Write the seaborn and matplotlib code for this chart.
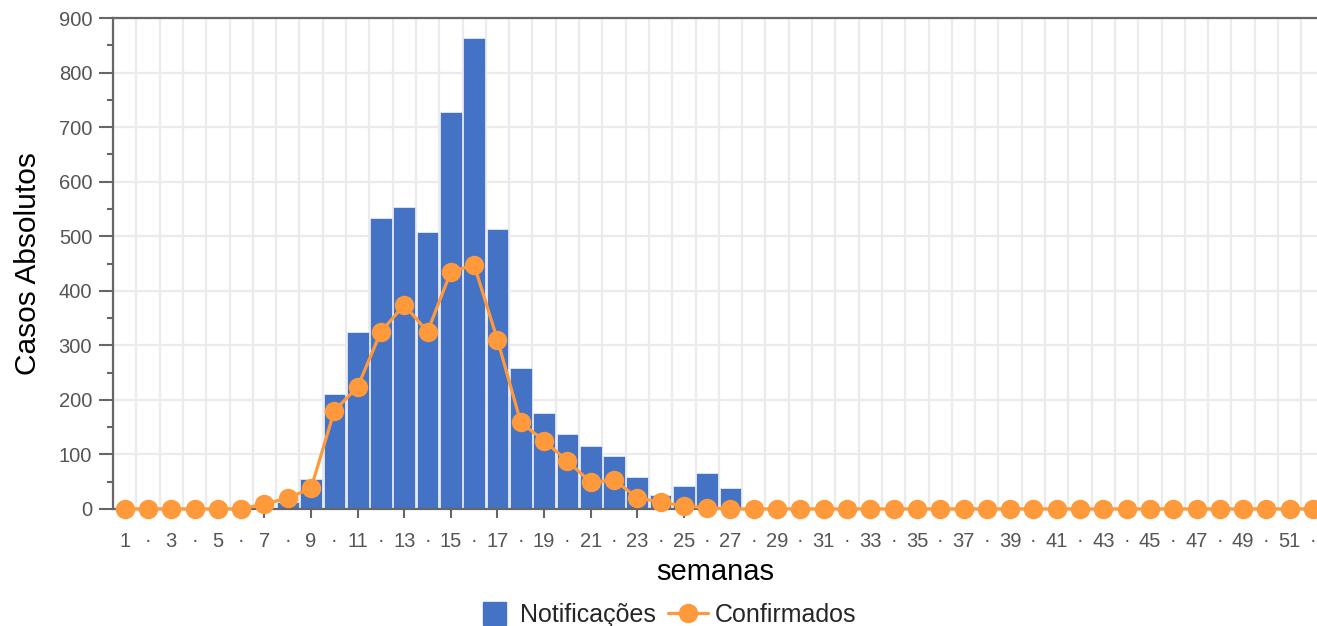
import numpy as np
import pandas as pd
import seaborn as sns
import matplotlib
matplotlib.use("Agg")
from matplotlib import pyplot as plt
from matplotlib.lines import Line2D
from matplotlib.patches import Patch, Rectangle
from matplotlib.legend_handler import HandlerPatch

sns.set_style("white")
plt.rcParams['font.family'] = ['Liberation Sans', 'DejaVu Sans']

# dados por semana epidemiologica
semanas = list(range(1, 53))
notificacoes = [0, 0, 0, 0, 0, 0, 0, 12, 55, 210, 324, 533, 553, 507, 728, 863,
                513, 258, 176, 137, 115, 98, 59, 26, 42, 66, 39] + [0] * 25
confirmados = [0, 0, 0, 0, 0, 0, 9, 20, 38, 180, 224, 325, 374, 325, 435, 447,
               310, 159, 125, 88, 49, 53, 21, 12, 6, 2, 0] + [0] * 25

df = pd.DataFrame({"semana": semanas, "Notificações": notificacoes,
                   "Confirmados": confirmados})

azul = "#4472C4"
laranja = "#FF9A3C"
cinza = "#666666"

fig = plt.figure(figsize=(13.17, 6.26), dpi=100)
ax = fig.add_axes([113 / 1317, 1 - 509 / 626, 1 - 113 / 1317, (509 - 18) / 626])

# grade
for xg in np.arange(0.5, 53, 1):
    ax.axvline(xg, color="#ebebeb", lw=1.6, zorder=0)
for yg in range(100, 901, 100):
    ax.axhline(yg, color="#ebebeb", lw=1.6, zorder=0)

sns.barplot(data=df, x="semana", y="Notificações", native_scale=True,
            color=azul, saturation=1, width=0.93, edgecolor="#e0e8f5",
            linewidth=0.6, ax=ax, zorder=2)
sns.lineplot(data=df, x="semana", y="Confirmados", color=laranja, lw=2.3,
             marker="o", markersize=14, markeredgewidth=0, ax=ax, zorder=3,
             clip_on=False)

ax.set_xlim(0.5, 52.17)
ax.set_ylim(0, 900)

impares = [s for s in semanas if s % 2 == 1]
pares = [s for s in semanas if s % 2 == 0]
ax.set_xticks(impares)
ax.set_xticklabels([str(s) for s in impares])
ax.set_xticks(pares, minor=True)
ax.set_xticklabels(["·"] * len(pares), minor=True)
ax.set_yticks(range(0, 901, 100))
ax.set_yticks(range(50, 900, 100), minor=True)

ax.tick_params(axis="x", which="major", length=6.5, width=1.5, color=cinza,
               labelcolor="#555555", labelsize=14.5, pad=10)
ax.tick_params(axis="x", which="minor", length=0, labelcolor="#555555",
               labelsize=14.5, pad=16)
ax.tick_params(axis="y", which="major", length=10, width=1.5, color=cinza,
               labelcolor="#555555", labelsize=14.5, pad=5)
ax.tick_params(axis="y", which="minor", length=4.5, width=1.5, color=cinza)
ax.tick_params(left=True, bottom=True)
ax.tick_params(axis="y", which="minor", left=True)

for lado in ["left", "top", "bottom"]:
    ax.spines[lado].set_visible(True)
    ax.spines[lado].set_color(cinza)
    ax.spines[lado].set_linewidth(1.6)
ax.spines["right"].set_visible(False)

ax.set_xlabel("semanas", fontsize=21, color="black", labelpad=5)
ax.set_ylabel("Casos Absolutos", fontsize=21.5, color="black", labelpad=12)


def quadrado(legend, orig_handle, xdescent, ydescent, width, height, fontsize):
    lado = height * 1.3
    return Rectangle((width - lado - 0.45 * height - xdescent,
                      -ydescent + (height - lado) / 2), lado, lado)


handles = [Patch(facecolor=azul, edgecolor=azul),
           Line2D([0], [0], color=laranja, lw=2.3, marker="o", markersize=14,
                  markeredgewidth=0)]
fig.legend(handles, ["Notificações", "Confirmados"], loc="center",
           bbox_to_anchor=(665 / 1317, 1 - 615 / 626), ncol=2, frameon=False,
           fontsize=18, handlelength=1.6, handletextpad=0.25, columnspacing=0.5,
           handler_map={Patch: HandlerPatch(patch_func=quadrado)})

fig.savefig("out.png", dpi=100)
